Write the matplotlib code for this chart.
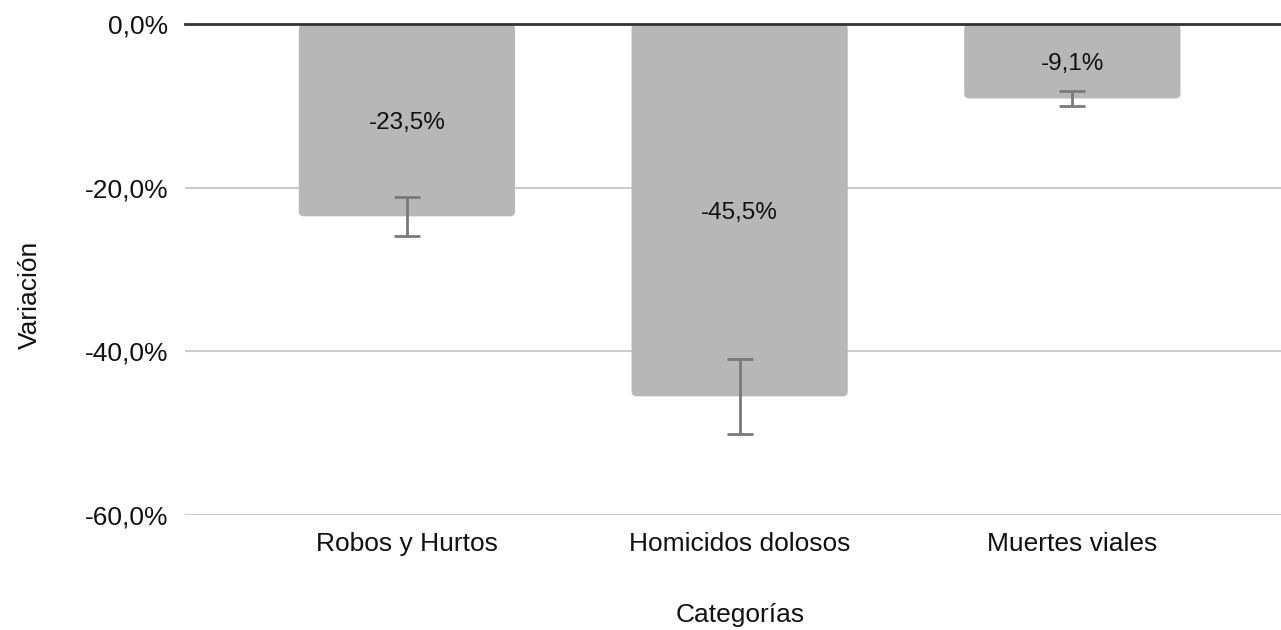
import matplotlib
matplotlib.use("Agg")
import matplotlib.pyplot as plt
from matplotlib.patches import FancyBboxPatch
from matplotlib.ticker import FuncFormatter

# datos
categorias = ["Robos y Hurtos", "Homicidos dolosos", "Muertes viales"]
variacion = [-23.5, -45.5, -9.1]
error = [2.35, 4.55, 0.91]
etiquetas = ["-23,5%", "-45,5%", "-9,1%"]

plt.rcParams['font.family'] = ['Liberation Sans', 'DejaVu Sans']

fig = plt.figure(figsize=(12.81, 6.30), dpi=100)
ax = fig.add_axes([185 / 1281, 1 - 515 / 630, 1 - 185 / 1281, (515 - 24) / 630])

x = list(range(len(categorias)))
ancho = 0.65
bars = ax.bar(x, variacion, width=ancho, color='#b7b7b7', zorder=2)
ax.errorbar(x, variacion, yerr=error, fmt='none', ecolor='#7a7a7a',
            elinewidth=2, capsize=9.7, capthick=2, zorder=3)

ax.set_xlim(-0.667, 2.627)
ax.set_ylim(-60, 0)
ax.set_yticks([0, -20, -40, -60])
ax.yaxis.set_major_formatter(FuncFormatter(lambda v, p: f"{v:.1f}%".replace('.', ',')))
ax.grid(axis='y', color='#cccccc', linewidth=1.5, zorder=0)
ax.axhline(0, color='#333333', linewidth=2, zorder=4, clip_on=False)

for s in ax.spines.values():
    s.set_visible(False)
ax.tick_params(axis='both', length=0, labelsize=19, colors='#111111')
ax.tick_params(axis='y', pad=12)
ax.tick_params(axis='x', pad=12)
ax.set_xticks(x)
ax.set_xticklabels(categorias)

ax.set_xlabel("Categorías", fontsize=19, color='#111111')
ax.set_ylabel("Variación", fontsize=19, color='#111111')
ax.xaxis.set_label_coords(740 / 1281, 1 - 615 / 630, transform=fig.transFigure)
ax.xaxis.label.set_va('center')
ax.yaxis.set_label_coords(30 / 1281, 1 - 295 / 630, transform=fig.transFigure)
ax.yaxis.label.set_va('center')

# esquinas redondeadas abajo
fig.canvas.draw()
px_x = ax.transData.transform((1, 0))[0] - ax.transData.transform((0, 0))[0]
px_y = ax.transData.transform((0, 0))[1] - ax.transData.transform((0, -1))[1]
r = 5
for b in bars:
    b.set_visible(False)
    h = abs(b.get_height())
    p = FancyBboxPatch((b.get_x(), -h), b.get_width(), h,
                       boxstyle=f"round,pad=0,rounding_size={r / px_x}",
                       mutation_aspect=px_x / px_y,
                       facecolor='#b7b7b7', edgecolor='none', zorder=2)
    ax.add_patch(p)

for xi, v, t in zip(x, variacion, etiquetas):
    ax.text(xi, v / 2, t, ha='center', va='center_baseline', fontsize=17.5,
            color='#111111', zorder=5)

fig.savefig("out.png", dpi=100)
